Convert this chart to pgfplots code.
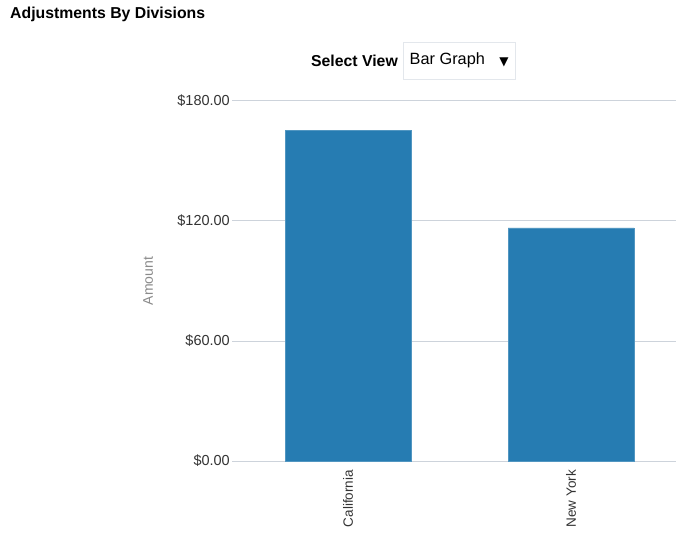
\documentclass[border=0pt]{standalone}
\usepackage{pgfplots}
\pgfplotsset{compat=1.18}
\usepackage{fontspec}
\setmainfont{Liberation Sans}
\newfontfamily\symfont{DejaVu Sans}
\definecolor{barblue}{HTML}{267CB2}
\definecolor{gridc}{HTML}{CDD3DB}
\definecolor{boxc}{HTML}{E3E7EC}
\definecolor{txt}{HTML}{333333}
\definecolor{lbl}{HTML}{8A8A8A}
\pgfplotstableread{
x val
0 165.3
1 116.6
}\datatable
\begin{document}
\begin{tikzpicture}[x=1pt,y=1pt]
\path[use as bounding box] (0,0) rectangle (676,533);
% title
\node[anchor=west,inner sep=0pt,text=black] at (10,519) {\fontsize{15.8}{17}\selectfont\bfseries Adjustments By Divisions};
% select view
\node[anchor=east,inner sep=0pt,text=black] at (398,472.5) {\fontsize{15.8}{17}\selectfont\bfseries Select View};
\draw[color=boxc,fill=white] (403,491) rectangle (515,454);
\node[anchor=west,inner sep=0pt,text=black] at (409.5,472.5) {\fontsize{16.3}{18}\selectfont Bar Graph};
\node[anchor=center,inner sep=0pt,text=black] at (504,471) {\fontsize{12}{13}\selectfont\symfont ▼};
\begin{axis}[
  at={(232pt,72pt)}, anchor=south west,
  scale only axis, width=444pt, height=360pt,
  xmin=-0.52, xmax=1.47, ymin=0, ymax=180,
  axis line style={draw=none},
  major tick length=0pt,
  ymajorgrids, grid style={color=gridc,line width=1pt},
  ytick={0,60,120,180},
  /pgf/number format/assume math mode=true,
  yticklabel={\$\pgfmathprintnumber[fixed,fixed zerofill,precision=2]{\tick}},
  yticklabel style={font=\fontsize{14.5}{16}\selectfont, text=txt, inner sep=0pt, xshift=-2pt},
  xtick=data, xticklabels={California,New York},
  xticklabel style={yshift=-9pt, rotate=90, anchor=east, inner sep=0pt, font=\fontsize{13.5}{15}\selectfont, text=txt},
  ylabel={Amount},
  ylabel style={at={(axis description cs:-0.189,0.5)}, anchor=center, font=\fontsize{14}{16}\selectfont, text=lbl},
  ybar, bar width=126pt,
  clip=false,
]
\addplot[fill=barblue, draw=barblue!80!white, line width=0.5pt] table[x=x,y=val] {\datatable};
\end{axis}
\end{tikzpicture}
\end{document}
